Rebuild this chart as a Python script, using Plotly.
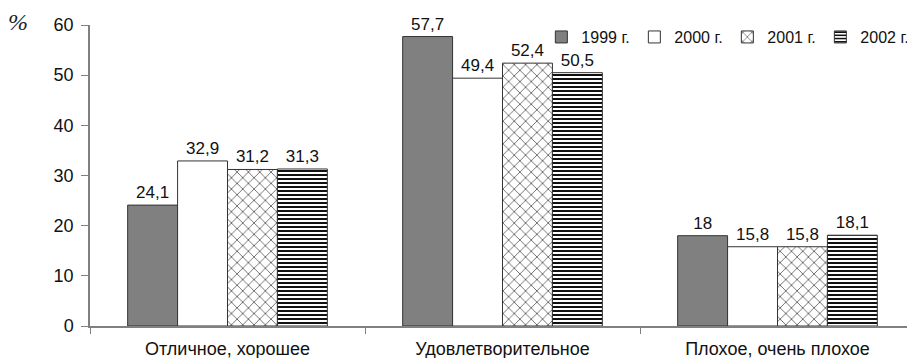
import plotly.graph_objects as go

categories = ["Отличное, хорошее", "Удовлетворительное", "Плохое, очень плохое"]
series_names = ["1999 г.", "2000 г.", "2001 г.", "2002 г."]
v1999 = [24.1, 57.7, 18]
v2000 = [32.9, 49.4, 15.8]
v2001 = [31.2, 52.4, 15.8]
v2002 = [31.3, 50.5, 18.1]
y_ticks = [0, 10, 20, 30, 40, 50, 60]

FONT = "Liberation Sans"

def fmt(v):
    s = ("%g" % v)
    return s.replace(".", ",")

styles = [
    dict(color="#808080", pattern=None),
    dict(color="#ffffff", pattern=None),
    dict(color="#ffffff", pattern=dict(shape="x", size=8, solidity=0.15, fgcolor="#222222", bgcolor="#ffffff", fillmode="replace")),
    dict(color="#ffffff", pattern=dict(shape="-", size=4, solidity=0.5, fgcolor="#111111", bgcolor="#ffffff", fillmode="replace")),
]

fig = go.Figure()
for name, vals, st in zip(series_names, [v1999, v2000, v2001, v2002], styles):
    marker = dict(color=st["color"], line=dict(color="#333333", width=1))
    if st["pattern"]:
        marker["pattern"] = st["pattern"]
    fig.add_trace(go.Bar(
        x=categories, y=vals, name=name,
        text=[fmt(v) for v in vals], textposition="outside",
        textfont=dict(family=FONT, size=17, color="#111111"),
        marker=marker, cliponaxis=False,
    ))

fig.update_layout(
    width=907, height=350,
    margin=dict(l=82, r=0, t=17, b=32),
    plot_bgcolor="white", paper_bgcolor="white",
    barmode="group", bargap=0.274, bargroupgap=0,
    font=dict(family=FONT, size=18, color="#111111"),
    showlegend=True,
    legend=dict(orientation="h", x=0.998, xanchor="right", y=0.96, yanchor="middle",
                font=dict(family=FONT, size=16), itemwidth=30, traceorder="normal",
                entrywidth=48, entrywidthmode="pixels",
                bgcolor="rgba(0,0,0,0)"),
    xaxis=dict(showline=True, linecolor="#808080", linewidth=1.5, ticks="outside",
               tickson="boundaries", ticklen=6, tickcolor="#808080", showgrid=False,
               range=[-0.5, 2.5], tickfont=dict(family=FONT, size=18),
               ticklabelstandoff=6),
    yaxis=dict(showline=True, linecolor="#808080", linewidth=1.5, ticks="outside",
               ticklen=7, tickcolor="#808080", tickvals=y_ticks, range=[0, 60],
               showgrid=False, zeroline=False, ticklabelstandoff=4,
               tickfont=dict(family=FONT, size=18)),
    annotations=[dict(text="<i>%</i>", xref="paper", yref="paper", x=-0.087, y=1.01,
                      xanchor="center", yanchor="middle", showarrow=False,
                      font=dict(family="Liberation Serif", size=24, color="#222222"))],
)

fig.write_html("out.html")
